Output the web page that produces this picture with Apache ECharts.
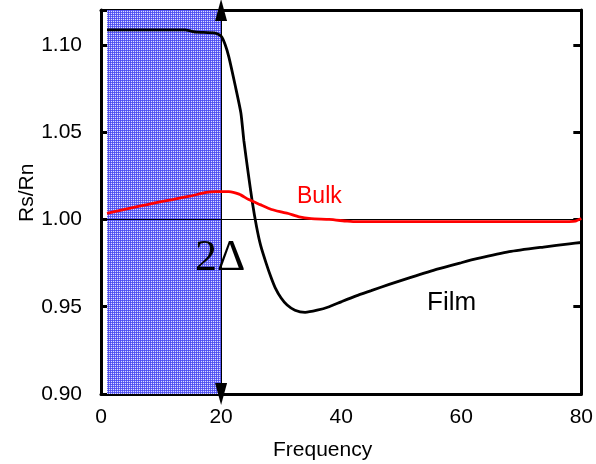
<!DOCTYPE html>
<html>
<head>
<meta charset="utf-8">
<script src="https://cdn.jsdelivr.net/npm/echarts@6/dist/echarts.min.js"></script>
<style>html,body{margin:0;padding:0;background:#fff}#c{width:596px;height:464px}</style>
</head>
<body>
<div id="c"></div>
<script>
// ---- data ----
var filmX = [1, 5, 10, 14, 15, 16, 19, 20, 20.7, 21.3, 22.4, 23.3, 23.8, 24.5, 25.2, 25.9, 26.6, 27.5, 28.3, 29.0, 30, 31, 32.3, 34, 36, 38, 40, 42.5, 45, 48, 51.6, 56, 60, 62.6, 68, 73.7, 78, 80];
var filmY = [1.1086, 1.1086, 1.1086, 1.1086, 1.1079, 1.1073, 1.1068, 1.105, 1.100, 1.093, 1.076, 1.061, 1.045, 1.027, 1.010, 0.996, 0.985, 0.975, 0.967, 0.961, 0.955, 0.951, 0.948, 0.9468, 0.948, 0.950, 0.9528, 0.9562, 0.9592, 0.9628, 0.9668, 0.9715, 0.9752, 0.9775, 0.9815, 0.9842, 0.986, 0.9868];
var bulkX = [1, 3, 6.4, 9, 11.9, 15, 17.5, 19, 21.3, 23, 24.6, 26.5, 28.4, 30, 31.2, 33, 35, 38, 41, 42, 50, 60, 70, 78, 79, 80];
var bulkY = [1.0035, 1.005, 1.0076, 1.0095, 1.0114, 1.0135, 1.0155, 1.016, 1.016, 1.0145, 1.0114, 1.0085, 1.0057, 1.0043, 1.0034, 1.0015, 1.0005, 1.0, 0.999, 0.9988, 0.9988, 0.9988, 0.9988, 0.9988, 0.999, 1.0005];
var xTicks = [0, 20, 40, 60, 80];
var yTicks = [0.90, 0.95, 1.00, 1.05, 1.10];
var gapStart = 1, gapEnd = 20;   // shaded gap region (2Δ)
var refLevel = 1.00;

function pairs(xs, ys) { return xs.map(function (x, i) { return [x, ys[i]]; }); }

// dotted blue pattern
var pc = document.createElement('canvas');
pc.width = 2; pc.height = 2;
var g = pc.getContext('2d');
g.fillStyle = '#4c4cf0'; g.fillRect(0, 0, 2, 2);
g.fillStyle = '#6262f4'; g.fillRect(1, 0, 1, 1); g.fillRect(0, 1, 1, 1);
g.fillStyle = '#dcdcff'; g.fillRect(1, 1, 1, 1);

var FONT = 'Liberation Sans, Arial, sans-serif';
var chart = echarts.init(document.getElementById('c'), null, { renderer: 'canvas' });
var option = {
  animation: false,
  grid: { left: 101, right: 12, top: 10, bottom: 70 },
  xAxis: [{
    type: 'value', min: xTicks[0], max: xTicks[xTicks.length - 1], interval: 20,
    axisLine: { show: true, lineStyle: { color: '#000', width: 3 } },
    axisTick: { show: false }, splitLine: { show: false },
    axisLabel: { color: '#000', fontSize: 21, fontFamily: FONT, margin: 13 }
  }, {
    type: 'value', position: 'top', min: xTicks[0], max: xTicks[xTicks.length - 1], interval: 20,
    axisLine: { show: true, onZero: false, lineStyle: { color: '#000', width: 3 } },
    axisTick: { show: false }, splitLine: { show: false }, axisLabel: { show: false }
  }],
  yAxis: [{
    type: 'value', min: yTicks[0], max: 1.12, interval: 0.05,
    axisLine: { show: true, lineStyle: { color: '#000', width: 3 } },
    axisTick: { show: true, inside: true, length: 8, lineStyle: { color: '#000', width: 3 } },
    splitLine: { show: false },
    axisLabel: { color: '#000', fontSize: 21, fontFamily: FONT, margin: 19, showMaxLabel: false,
      formatter: function (v) { return v.toFixed(2); } }
  }, {
    type: 'value', position: 'right', min: yTicks[0], max: 1.12, interval: 0.05,
    axisLine: { show: true, onZero: false, lineStyle: { color: '#000', width: 3 } },
    axisTick: { show: true, inside: true, length: 8, lineStyle: { color: '#000', width: 3 } },
    splitLine: { show: false }, axisLabel: { show: false }
  }],
  series: [{
    name: 'Film', type: 'line', data: pairs(filmX, filmY), showSymbol: false, smooth: 0.2,
    lineStyle: { color: '#000', width: 2.8 }, z: 3,
    markArea: {
      silent: true,
      itemStyle: { color: { image: pc, repeat: 'repeat' } },
      data: [[{ xAxis: gapStart, yAxis: yTicks[0] }, { xAxis: gapEnd + 0.1, yAxis: 1.12 }]]
    },
    markLine: {
      silent: true, symbol: ['none', 'none'], label: { show: false },
      lineStyle: { color: '#000', width: 1, type: 'solid' },
      data: [{ yAxis: refLevel }]
    }
  }, {
    name: 'Arrow', type: 'line', data: [], z: 4,
    markLine: {
      silent: true, symbol: ['triangle', 'triangle'], symbolSize: [12, 22], label: { show: false },
      lineStyle: { color: '#000', width: 1, type: 'solid' },
      data: [[{ coord: [gapEnd, yTicks[0]] }, { coord: [gapEnd, 1.12] }]]
    }
  }, {
    name: 'Bulk', type: 'line', data: pairs(bulkX, bulkY), showSymbol: false, smooth: 0.2,
    lineStyle: { color: '#ff0000', width: 2.8 }, z: 5
  }],
  graphic: [
    { type: 'text', z: 100, left: 297, top: 185, style: { text: 'Bulk', fill: '#ff0000', font: '23px ' + FONT } },
    { type: 'text', z: 100, left: 427, top: 290, style: { text: 'Film', fill: '#000', font: '26px ' + FONT } },
    { type: 'text', z: 100, left: 195, top: 236, style: { text: '2Δ', fill: '#000', font: '44px Liberation Serif, Times New Roman, serif' } },
    { type: 'text', z: 100, left: 273, top: 440, style: { text: 'Frequency', fill: '#000', font: '21px ' + FONT } },
    { type: 'text', z: 100, x: 17, y: 222, rotation: Math.PI / 2, style: { text: 'Rs/Rn', fill: '#000', font: '21px ' + FONT } }
  ]
};
chart.setOption(option);
</script>
</body>
</html>
